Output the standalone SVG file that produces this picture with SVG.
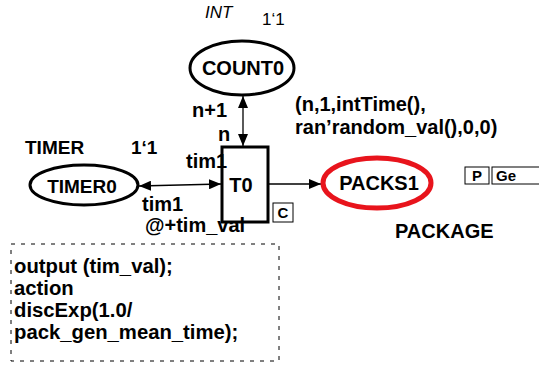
<svg xmlns="http://www.w3.org/2000/svg" width="539" height="366" viewBox="0 0 539 366">
<defs>
<marker id="ah" viewBox="0 0 12 10" refX="12" refY="5" markerWidth="12" markerHeight="10" markerUnits="userSpaceOnUse" orient="auto-start-reverse">
<path d="M0,0 L12,5 L0,10 Z" fill="#000"/>
</marker>
</defs>
<style>
text{font-family:"Liberation Sans",Arial,sans-serif;font-weight:bold;font-size:20px;fill:#000}
.place{fill:#fff;stroke:#000;stroke-width:3}
.arc{stroke:#000;stroke-width:1.3;fill:none}
.tag{fill:#fff;stroke:#000;stroke-width:1}
.small{font-size:15px}
.plain{font-weight:normal;font-size:17px}
.m{font-size:19px}
.code{font-size:20.3px}
</style>
<rect width="539" height="366" fill="#fff"/>
<g id="connectors">
<line class="arc" x1="243" y1="96" x2="243" y2="146" marker-start="url(#ah)" marker-end="url(#ah)"/>
<line class="arc" x1="139" y1="186" x2="221" y2="184" marker-start="url(#ah)" marker-end="url(#ah)"/>
<line class="arc" x1="269" y1="184" x2="321" y2="184" marker-end="url(#ah)"/>
</g>
<g id="COUNT0">
<ellipse class="place" cx="242" cy="68" rx="52" ry="27"/>
<text x="243" y="75" text-anchor="middle">COUNT0</text>
<text x="205" y="18" class="plain" font-style="italic">INT</text>
<text x="262" y="25" class="plain">1‘1</text>
</g>
<g id="TIMER0">
<ellipse class="place" cx="84" cy="185" rx="54" ry="20"/>
<text x="82" y="193" text-anchor="middle" class="m">TIMER0</text>
<text x="25" y="154" class="m">TIMER</text>
<text x="131" y="154" class="m">1‘1</text>
</g>
<g id="T0">
<rect x="222" y="147" width="46" height="75" fill="#fff" stroke="#000" stroke-width="3"/>
<text x="241" y="192" text-anchor="middle">T0</text>
<rect class="tag" x="273" y="203" width="20" height="19"/>
<text x="283" y="218" text-anchor="middle" class="small">C</text>
</g>
<g id="PACKS1">
<ellipse cx="377" cy="183" rx="54" ry="25" fill="#fff" stroke="#e8141c" stroke-width="5"/>
<text x="379" y="190" text-anchor="middle">PACKS1</text>
<text x="395" y="238">PACKAGE</text>
<rect class="tag" x="465" y="167" width="24" height="17"/>
<text x="477" y="181" text-anchor="middle" class="small">P</text>
<rect class="tag" x="492" y="167" width="60" height="17"/>
<text x="496" y="181" class="small">Ge</text>
</g>
<g id="labels">
<text x="192" y="117">n+1</text>
<text x="218" y="141">n</text>
<text x="186" y="168">tim1</text>
<text x="142" y="211">tim1</text>
<text x="145" y="232">@+tim_val</text>
<text x="295" y="111">(n,1,intTime(),</text>
<text x="295" y="134">ran’random_val(),0,0)</text>
</g>
<g id="code">
<rect x="11" y="244" width="268" height="117" fill="none" stroke="#000" stroke-width="1" stroke-dasharray="4,6"/>
<text x="14" y="273" class="code">output (tim_val);</text>
<text x="14" y="295" class="code">action</text>
<text x="14" y="317" class="code">discExp(1.0/</text>
<text x="14" y="339" class="code">pack_gen_mean_time);</text>
</g>
</svg>
